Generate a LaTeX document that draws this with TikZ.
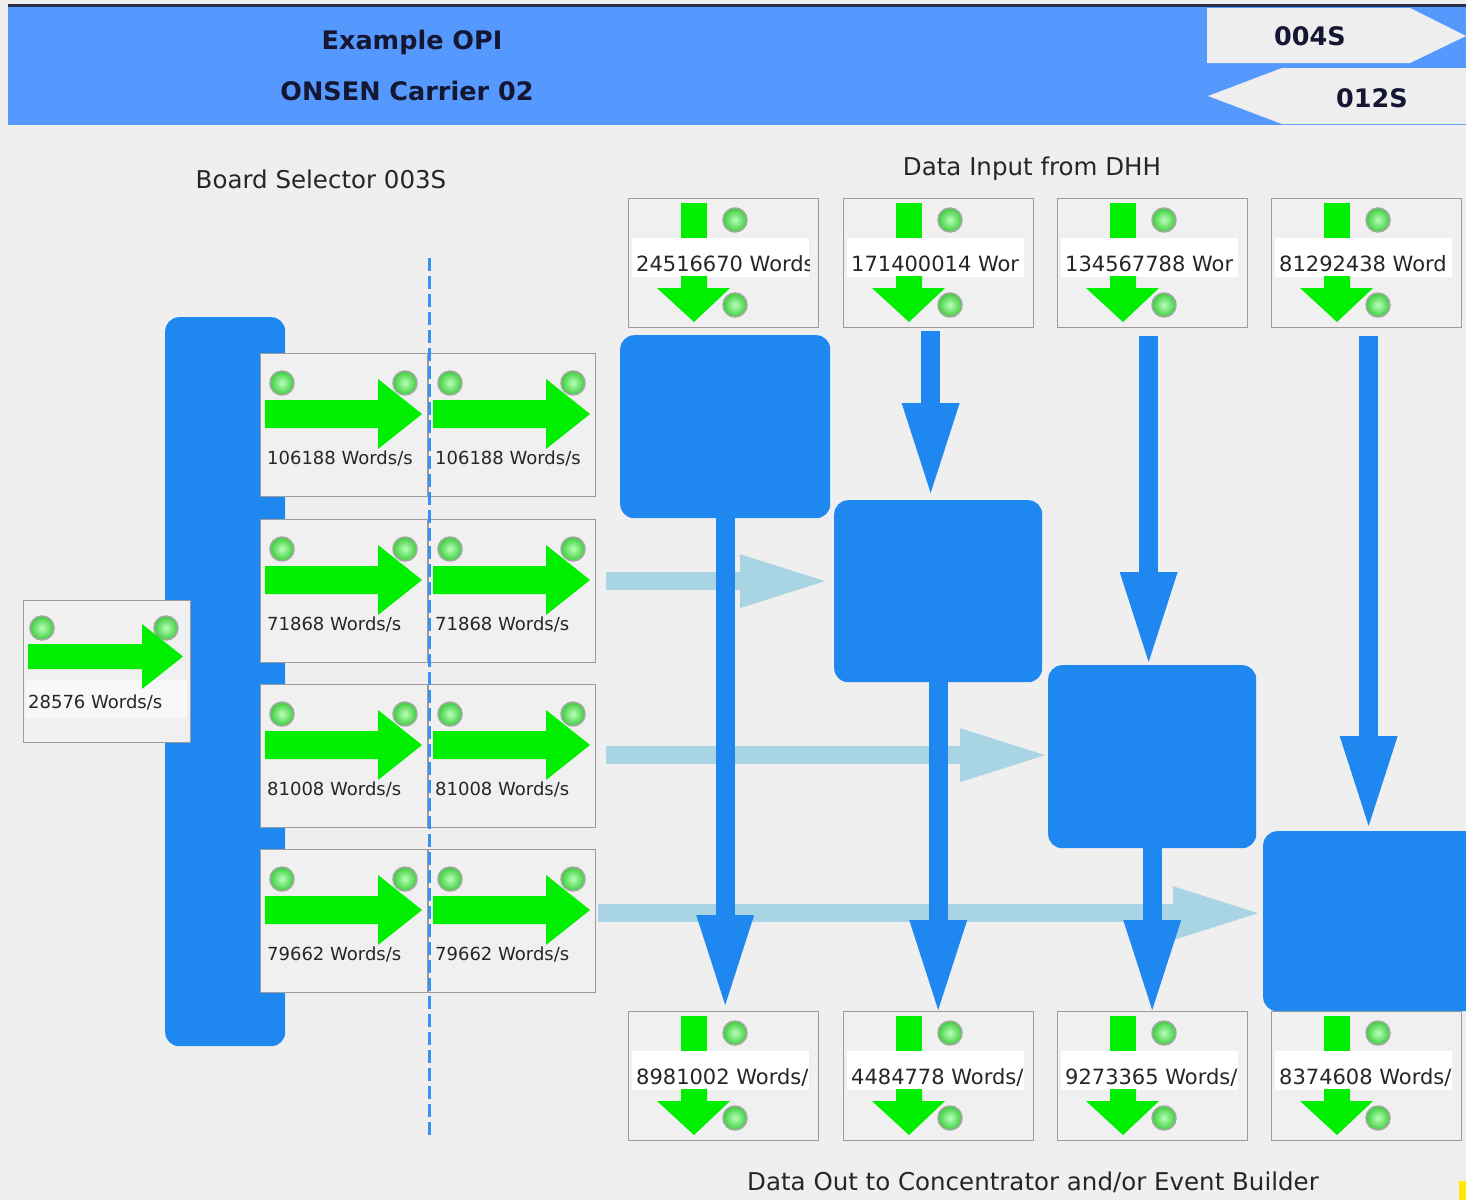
\documentclass[tikz,border=0pt]{standalone}
\usepackage{fontspec}
\setmainfont{DejaVu Sans}
\usetikzlibrary{arrows.meta,calc}
\definecolor{bgc}{RGB}{239,239,239}
\definecolor{hblue}{RGB}{85,153,255}
\definecolor{hline}{RGB}{40,48,72}
\definecolor{bblue}{RGB}{30,136,240}
\definecolor{lblue}{RGB}{168,212,228}
\definecolor{agreen}{RGB}{0,238,0}
\definecolor{ledin}{RGB}{185,255,185}
\definecolor{ledout}{RGB}{60,205,60}
\definecolor{ledring}{RGB}{160,170,160}
\definecolor{pborder}{RGB}{155,155,155}
\definecolor{pfill}{RGB}{240,240,240}
\definecolor{ttext}{RGB}{20,22,50}
\definecolor{tagfill}{RGB}{238,238,238}
\definecolor{ymark}{RGB}{255,235,0}
\newcommand\ledd[1]{\shade[inner color=ledin, outer color=ledout] #1 circle[radius=12pt]; \draw[line width=1.5pt, ledring] #1 circle[radius=12pt];}
\newcommand\rowbox[4]{%
  \node[panel, minimum width=167pt, minimum height=143pt] (#1) at (#2,#3) {};
  \begin{scope}[shift={(#2,#3)}]
    \ledd{(22,30)}\ledd{(145,30)}
    \fill[agreen] (5,47) -- (118,47) -- (118,26) -- (162,61) -- (118,96) -- (118,75) -- (5,75) -- cycle;
    \node[rowtext] (#1t) at (7,111) {#4};
  \end{scope}}
\newcommand\iobox[4]{%
  \node[panel, minimum width=190pt, minimum height=129pt] (#1) at (#2,#3) {};
  \begin{scope}[shift={(#2,#3)}]
    \fill[agreen] (53,5) rectangle (79,40);
    \fill[white] (4,40) rectangle (181,79);
    \ledd{(107,22)}\ledd{(107,107)}
    \fill[agreen] (53,78) -- (79,78) -- (79,90) -- (102,90) -- (66,124) -- (29,90) -- (53,90) -- cycle;
    \begin{scope}
      \clip (4,40) rectangle (181,79);
      \node[boxtext] (#1t) at (8,73) {#4};
    \end{scope}
  \end{scope}}
\begin{document}
\begin{tikzpicture}[x=1pt,y=-1pt,
  panel/.style={draw=pborder, fill=pfill, line width=1.3pt, inner sep=0pt, anchor=north west},
  bluebox/.style={fill=bblue, rounded corners=14pt, inner sep=0pt, anchor=north west},
  bluearr/.style={draw=bblue, line width=19pt, -{Triangle[length=90pt,width=58pt,line width=0pt]}},
  lightarr/.style={draw=lblue, line width=18pt, -{Triangle[length=85pt,width=54pt,line width=0pt]}},
  rowtext/.style={font=\fontsize{18}{20}\selectfont, text=black!85, inner sep=0pt, anchor=base west},
  boxtext/.style={font=\fontsize{21}{24}\selectfont, text=black!85, inner sep=0pt, anchor=base west},
  sectlabel/.style={font=\fontsize{24.5}{28}\selectfont, text=black!85, inner sep=0pt, anchor=base},
  htitle/.style={font=\fontsize{25.5}{30}\selectfont\bfseries, text=ttext, inner sep=0pt, anchor=base},
]
\useasboundingbox (0,0) rectangle (1466,1200);
\fill[bgc] (0,0) rectangle (1466,1200);
% header
\fill[hline] (8,4) rectangle (1466,8);
\node[fill=hblue, inner sep=0pt, anchor=north west, minimum width=1458pt, minimum height=118pt] (hdr) at (8,7) {};
\node[htitle] (title1) at (412,49) {Example OPI};
\node[htitle] (title2) at (407,100) {ONSEN Carrier 02};
\fill[tagfill] (1207,8) -- (1410,8) -- (1466,36) -- (1410,63) -- (1207,63) -- cycle;
\fill[tagfill] (1466,68) -- (1282,68) -- (1208,96) -- (1282,124) -- (1466,124) -- cycle;
\node[htitle] (tag1) at (1310,45) {004S};
\node[htitle] (tag2) at (1372,107) {012S};
% section labels
\node[sectlabel] (lbsel) at (321,188) {Board Selector 003S};
\node[sectlabel] (lbin) at (1032,175) {Data Input from DHH};
\node[sectlabel] (lbout) at (1033,1190) {Data Out to Concentrator and/or Event Builder};
% board selector bar
\node[bluebox, minimum width=120pt, minimum height=729pt] (bar) at (165,317) {};
% left input box
\node[panel, minimum width=167pt, minimum height=142pt] (inp) at (23,600) {};
\begin{scope}[shift={(23,600)}]
  \fill[white!55!pfill] (3,80) rectangle (164,118);
  \ledd{(19,28)}\ledd{(143,28)}
  \fill[agreen] (5,44) -- (119,44) -- (119,24) -- (160,56.5) -- (119,89) -- (119,69) -- (5,69) -- cycle;
  \node[rowtext] (inpt) at (5,108) {28576 Words/s};
\end{scope}
% row boxes
\rowbox{r11}{260}{353}{106188 Words/s}
\rowbox{r12}{428}{353}{106188 Words/s}
\rowbox{r21}{260}{519}{71868 Words/s}
\rowbox{r22}{428}{519}{71868 Words/s}
\rowbox{r31}{260}{684}{81008 Words/s}
\rowbox{r32}{428}{684}{81008 Words/s}
\rowbox{r41}{260}{849}{79662 Words/s}
\rowbox{r42}{428}{849}{79662 Words/s}
% dashed separator
\coordinate (dtop) at (429,258);
\coordinate (dbot) at (429,1140);
\draw[bblue!90!white, line width=3pt, dash pattern=on 13pt off 5pt] (dtop) -- (dbot);
% input / output boxes
\iobox{in1}{628}{198}{24516670 Words}
\iobox{in2}{843}{198}{171400014 Wor}
\iobox{in3}{1057}{198}{134567788 Wor}
\iobox{in4}{1271}{198}{81292438 Word}
\iobox{out1}{628}{1011}{8981002 Words/}
\iobox{out2}{843}{1011}{4484778 Words/}
\iobox{out3}{1057}{1011}{9273365 Words/}
\iobox{out4}{1271}{1011}{8374608 Words/}
% processing blocks
\node[bluebox, minimum width=210pt, minimum height=183pt] (b1) at (620,335) {};
\node[bluebox, minimum width=208pt, minimum height=182pt] (b2) at (834,500) {};
\node[bluebox, minimum width=208pt, minimum height=183pt] (b3) at (1048,665) {};
\node[bluebox, minimum width=230pt, minimum height=180pt] (b4) at (1263,831) {};
% light arrows (behind vertical arrows)
\draw[lightarr] ($(r22.east)+(10,-10)$) -- ($(r22.east -| b2.west)+(-9,-10)$);
\draw[lightarr] ($(r32.east)+(10,-1)$) -- ($(r32.east -| b3.west)+(-3,-1)$);
\draw[lightarr] ($(r42.east)+(2,-8)$) -- ($(r42.east -| b4.west)+(-5,-8)$);
% blue arrows
\draw[bluearr] ($(in2.south)+(-8,3)$) -- ($(in2.south |- b2.north)+(-8,-7)$);
\draw[bluearr] ($(in3.south)+(-4,8)$) -- ($(in3.south |- b3.north)+(-4,-3)$);
\draw[bluearr] ($(in4.south)+(2,8)$) -- ($(in4.south |- b4.north)+(2,-5)$);
\draw[bluearr] (b1.south) -- ($(b1.south |- out1.north)+(0,-6)$);
\draw[bluearr] (b2.south) -- ($(b2.south |- out2.north)+(0,-1)$);
\draw[bluearr] (b3.south) -- ($(b3.south |- out3.north)+(0,-1)$);
% corner mark
\fill[ymark] (1459,1181) rectangle (1466,1200);
\end{tikzpicture}
\end{document}
